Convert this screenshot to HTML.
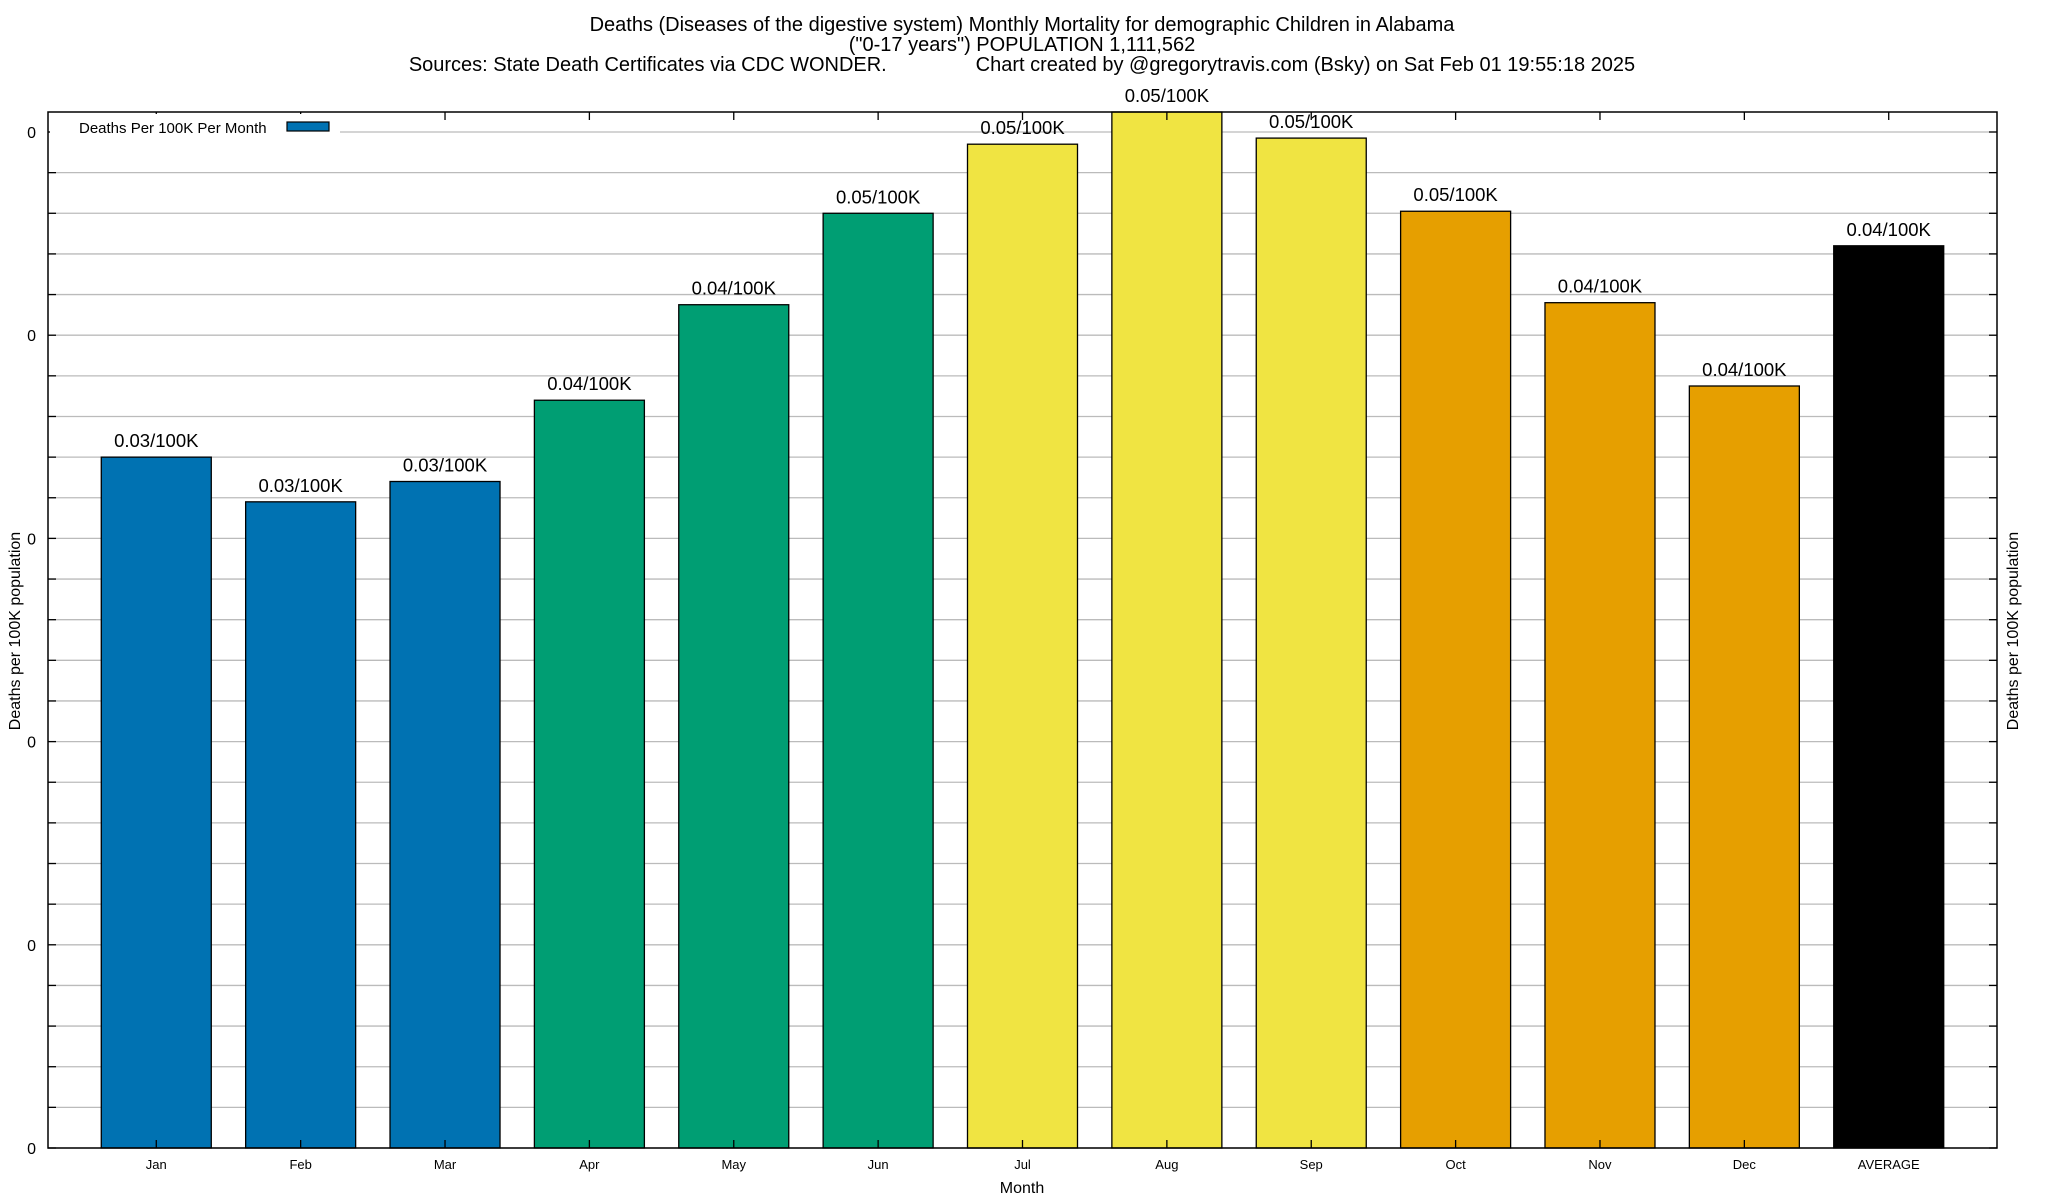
<!DOCTYPE html>
<html><head><meta charset="utf-8"><style>
html,body{margin:0;padding:0;background:#fff;}
svg{display:block;font-family:"Liberation Sans",Arial,sans-serif;}
</style></head><body>
<svg id="chart" width="2048" height="1200">
<g font-size="20" text-anchor="middle" fill="#000">
<text x="1022" y="31">Deaths (Diseases of the digestive system) Monthly Mortality for demographic Children in Alabama</text>
<text x="1022" y="51">("0-17 years") POPULATION 1,111,562</text>
<text x="1022" y="71" xml:space="preserve" style="white-space:pre">Sources: State Death Certificates via CDC WONDER.                Chart created by @gregorytravis.com (Bsky) on Sat Feb 01 19:55:18 2025</text>
</g>
<g id="grid"></g>
<g id="bars"></g>
<g id="axes"></g>
<text x="1022" y="1193" font-size="16" text-anchor="middle">Month</text>
<text transform="translate(20,631) rotate(-90)" font-size="16" text-anchor="middle">Deaths per 100K population</text>
<text transform="translate(2018,631) rotate(-90)" font-size="16" text-anchor="middle">Deaths per 100K population</text>
<g>
<rect x="50" y="114" width="290" height="28" fill="#fff"/>
<text x="79" y="133" font-size="15">Deaths Per 100K Per Month</text>
<rect x="287" y="122" width="42" height="9" fill="#0072b2" stroke="#000" stroke-width="1.2"/>
</g>
</svg>
<script>
const categories=["Jan","Feb","Mar","Apr","May","Jun","Jul","Aug","Sep","Oct","Nov","Dec","AVERAGE"];
const values=[0.0340,0.0318,0.0328,0.0368,0.0415,0.0460,0.0494,0.0510,0.0497,0.0461,0.0416,0.0375,0.0444];
const valueLabels=["0.03/100K","0.03/100K","0.03/100K","0.04/100K","0.04/100K","0.05/100K","0.05/100K","0.05/100K","0.05/100K","0.05/100K","0.04/100K","0.04/100K","0.04/100K"];
const barColors=["#0072b2","#0072b2","#0072b2","#009e73","#009e73","#009e73","#f0e442","#f0e442","#f0e442","#e69f00","#e69f00","#e69f00","#000000"];
const yTicks=[0,0.01,0.02,0.03,0.04,0.05];
const yTickLabels=["0","0","0","0","0","0"];
const NS="http://www.w3.org/2000/svg";
const L=48,R=1997,T=112,B=1148,YMAX=0.051;
const yS=v=>B-(v/0.05)*(B-132);
const step=(R-L)/13.5;
const xS=i=>L+(i+0.75)*step;
const bw=110;
function mk(tag,attrs,parent){const e=document.createElementNS(NS,tag);for(const k in attrs)e.setAttribute(k,attrs[k]);parent.appendChild(e);return e;}
const grid=document.getElementById('grid'),bars=document.getElementById('bars'),axes=document.getElementById('axes');
for(let v=0;v<=YMAX+1e-9;v+=0.002){
 const y=yS(v);
 const gl=mk('line',{x1:L,x2:R,y1:y,y2:y,stroke:'#bbb','stroke-width':1.3},grid);
 
 
 mk('line',{x1:L,x2:L+8,y1:y,y2:y,stroke:'#000','stroke-width':1.3},axes);
 mk('line',{x1:R-8,x2:R,y1:y,y2:y,stroke:'#000','stroke-width':1.3},axes);
}
yTicks.forEach((v,i)=>{
 const t=mk('text',{x:36,y:yS(v)+6,'font-size':16,'text-anchor':'end'},axes);
 t.textContent=yTickLabels[i];
 
 
});
categories.forEach((c,i)=>{
 const x=xS(i),y=Math.max(yS(values[i]),T);
 const r=mk('rect',{x:x-bw/2,y:y,width:bw,height:B-y,fill:barColors[i],stroke:'#000','stroke-width':1.3},bars);
 
 
 const t=mk('text',{x:x,y:y-10,'font-size':18.5,'text-anchor':'middle'},bars);
 t.textContent=valueLabels[i];
 
 
 const xl=mk('text',{x:x,y:1169,'font-size':13,'text-anchor':'middle'},axes);
 xl.textContent=c;
 
 
 mk('line',{x1:x,x2:x,y1:T,y2:T+8,stroke:'#000','stroke-width':1.3},axes);
 mk('line',{x1:x,x2:x,y1:B-8,y2:B,stroke:'#000','stroke-width':1.3},axes);
});
const fr=mk('rect',{x:L,y:T,width:R-L,height:B-T,fill:'none',stroke:'#000','stroke-width':1.5},axes);


</script>
</body></html>
